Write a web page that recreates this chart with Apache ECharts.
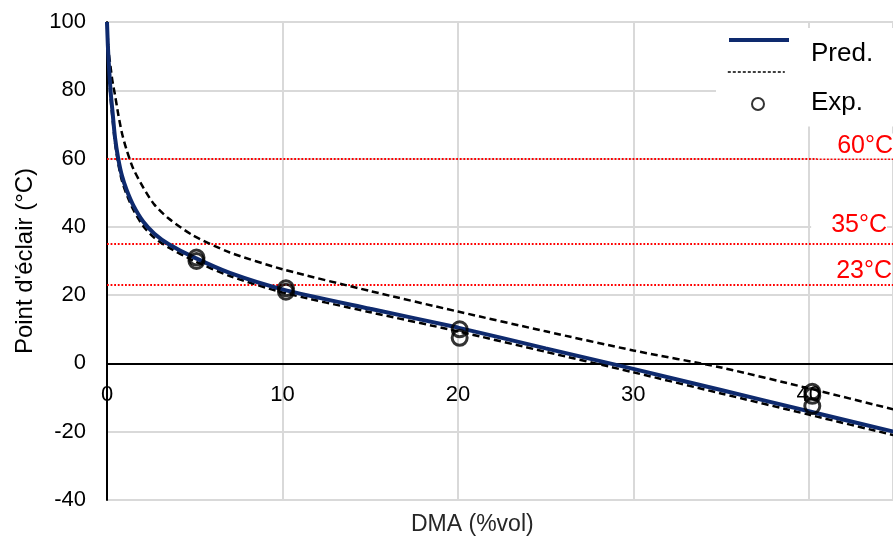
<!DOCTYPE html>
<html>
<head>
<meta charset="utf-8">
<script src="https://cdn.jsdelivr.net/npm/echarts@6/dist/echarts.min.js"></script>
<style>html,body{margin:0;padding:0;background:#fff;}#c{width:893px;height:546px;}</style>
</head>
<body>
<div id="c"></div>
<script>
// ---- data ----
const predX = [0, 0.05, 0.1, 0.2, 0.3, 0.46, 0.64, 0.85, 1.12, 1.5, 2.07, 2.7, 3.5, 4.9, 7, 10, 15, 20, 25, 30, 35, 40, 45];
const predSolid = [100, 93, 88, 80, 74.5, 66, 60, 55, 50.8, 46.3, 41.5, 38, 35, 31.2, 26.5, 21.7, 16, 10.5, 4.4, -1.6, -7.8, -14, -20.2];
const predDashLow = [100, 91, 86, 78, 72.5, 64.5, 58.5, 53.5, 49.5, 45, 40.2, 36.8, 34, 30.2, 25.6, 20.8, 15, 9.4, 3.4, -2.6, -8.8, -15, -21.2];
const predDashHigh = [100, 95, 91, 87, 83, 78.5, 73, 67.5, 62.5, 57, 51.5, 46.5, 42.5, 37.5, 32.5, 27.6, 21.2, 15.2, 9.4, 3.8, -1.2, -7.3, -13.7];
const expX = [5.1, 5.1, 10.2, 10.2, 20.1, 20.1, 40.2, 40.2, 40.2];
const expY = [30, 31, 21, 22, 10, 7.5, -8.3, -9.5, -12.5];
const refTemps = [60, 35, 23];
const refLabels = ['60°C', '35°C', '23°C'];
const xTicks = [0, 10, 20, 30, 40];
const yTicks = [-40, -20, 0, 20, 40, 60, 80, 100];

const FONT = 'Liberation Sans, Arial, sans-serif';
const zip = (xs, ys) => xs.map((x, i) => [x, ys[i]]);
const refDist = [0, 6, 1];
const GRID_TOP = 22, GRID_BOTTOM_PX = 500, Y_MIN = -40, Y_MAX = 100;
const zeroOffset = -(GRID_BOTTOM_PX - (GRID_TOP + (Y_MAX - 0) / (Y_MAX - Y_MIN) * (GRID_BOTTOM_PX - GRID_TOP)));

const chart = echarts.init(document.getElementById('c'));
chart.setOption({
  animation: false,
  backgroundColor: '#fff',
  textStyle: { fontFamily: FONT },
  grid: { left: 107, top: GRID_TOP, right: 0, bottom: 546 - GRID_BOTTOM_PX, containLabel: false },
  title: [
    { text: 'DMA (%vol)', left: 411, top: 513, padding: 0,
      textStyle: { fontFamily: FONT, fontSize: 23, fontWeight: 'normal', color: '#262626' } },
    { text: 'Pred.', left: 811, top: 41, padding: 0, z: 8,
      textStyle: { fontFamily: FONT, fontSize: 26, fontWeight: 'normal', color: '#000' } },
    { text: 'Exp.', left: 811, top: 90, padding: 0, z: 8,
      textStyle: { fontFamily: FONT, fontSize: 26, fontWeight: 'normal', color: '#000' } }
  ],
  legend: [
    { data: ['Pred.'], left: 716, top: 28, padding: [5, 120, 81, 11], backgroundColor: '#fff',
      orient: 'vertical', itemWidth: 60, itemHeight: 14, selectedMode: false, z: 3,
      itemStyle: { opacity: 0 }, lineStyle: { width: 4, color: '#0e2a6e' },
      formatter: () => '', textStyle: { fontSize: 12 } },
    { data: ['Pred. (a)'], left: 727, top: 65, padding: 0, orient: 'vertical',
      itemWidth: 57, itemHeight: 14, selectedMode: false, z: 5,
      itemStyle: { opacity: 0 }, lineStyle: { width: 1.6, color: '#000', type: [3, 2] },
      formatter: () => '', textStyle: { fontSize: 12 } },
    { data: [{ name: 'Exp.', icon: 'circle', itemStyle: { color: '#fff', borderColor: '#000', borderWidth: 2 } }],
      left: 751, top: 97, padding: 0, orient: 'vertical',
      itemWidth: 12, itemHeight: 12, selectedMode: false, z: 5,
      formatter: () => '', textStyle: { fontSize: 10 } }
  ],
  xAxis: {
    type: 'value', min: 0, max: 44.8, interval: 10, position: 'bottom', offset: zeroOffset,
    axisLine: { show: true, onZero: false, lineStyle: { color: '#000', width: 2 } },
    axisTick: { show: false },
    axisLabel: { margin: 21, fontSize: 22, color: '#000', fontFamily: FONT, showMaxLabel: false,
      formatter: v => xTicks.includes(v) ? String(v) : '' },
    splitLine: { show: true, lineStyle: { color: '#d9d9d9', width: 2 } }
  },
  yAxis: {
    type: 'value', min: Y_MIN, max: Y_MAX, interval: 20,
    name: "Point d'éclair (°C)", nameLocation: 'middle', nameGap: 70, nameRotate: 90,
    nameTextStyle: { fontFamily: FONT, fontSize: 24, color: '#000' },
    axisLine: { show: true, onZero: false, lineStyle: { color: '#000', width: 2 } },
    axisTick: { show: false },
    axisLabel: { margin: 21, fontSize: 22, color: '#000', fontFamily: FONT,
      formatter: v => yTicks.includes(v) ? String(v) : '' },
    splitLine: { show: true, lineStyle: { color: '#d9d9d9', width: 2 } }
  },
  series: [
    { name: 'Pred. (b)', type: 'line', data: zip(predX, predDashHigh), showSymbol: false, symbol: 'none',
      smooth: 0.25, z: 3,
      lineStyle: { color: '#000', width: 2.5, type: [7, 4] } },
    { name: 'Pred. (a)', type: 'line', data: zip(predX, predDashLow), showSymbol: false, symbol: 'none',
      smooth: 0.25, z: 3,
      lineStyle: { color: '#000', width: 2.5, type: [7, 4] } },
    { name: 'Pred.', type: 'line', data: zip(predX, predSolid), showSymbol: false, symbol: 'none',
      smooth: 0.25, z: 4,
      lineStyle: { color: '#0e2a6e', width: 4 } },
    { name: 'Exp.', type: 'scatter', data: zip(expX, expY), symbol: 'circle', symbolSize: 15, z: 5,
      itemStyle: { color: 'rgba(255,255,255,0)', borderColor: '#000', borderWidth: 3 },
      markLine: {
        silent: true, symbol: ['none', 'none'], z: 2,
        lineStyle: { color: '#ff0000', width: 1.8, type: 'dotted' },
        label: { show: true, position: 'insideEndTop', color: '#ff0000', fontSize: 25, fontFamily: FONT,
          backgroundColor: '#fff', padding: [0, 0, 0, 20] },
        data: refTemps.map((t, i) => ({ yAxis: t,
          label: { formatter: refLabels[i], distance: refDist[i] } }))
      }
    }
  ]
});
</script>
</body>
</html>
